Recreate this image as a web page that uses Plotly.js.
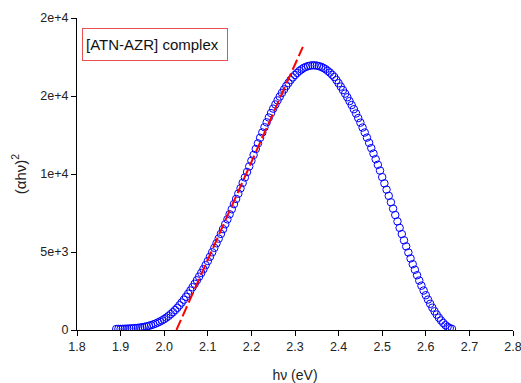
<!DOCTYPE html>
<html>
<head>
<meta charset="utf-8">
<script src="https://cdn.plot.ly/plotly-3.0.1.min.js"></script>
<style>html,body{margin:0;padding:0;background:#fff;}#chart{width:521px;height:383px;}</style>
</head>
<body>
<div id="chart"></div>
<script>
// Photon energy hν (eV)
const energy = [
1.890,1.895,1.900,1.905,1.910,1.915,1.920,1.925,1.930,1.935,1.940,1.945,1.950,1.955,1.960,1.965,1.970,1.975,1.980,1.985,
1.990,1.995,2.000,2.005,2.010,2.015,2.020,2.025,2.030,2.035,2.040,2.045,2.050,2.055,2.060,2.065,2.070,2.075,2.080,2.085,
2.090,2.095,2.100,2.105,2.110,2.115,2.120,2.125,2.130,2.135,2.140,2.145,2.150,2.155,2.160,2.165,2.170,2.175,2.180,2.185,
2.190,2.195,2.200,2.205,2.210,2.215,2.220,2.225,2.230,2.235,2.240,2.245,2.250,2.255,2.260,2.265,2.270,2.275,2.280,2.285,
2.290,2.295,2.300,2.305,2.310,2.315,2.320,2.325,2.330,2.335,2.340,2.345,2.350,2.355,2.360,2.365,2.370,2.375,2.380,2.385,
2.390,2.395,2.400,2.405,2.410,2.415,2.420,2.425,2.430,2.435,2.440,2.445,2.450,2.455,2.460,2.465,2.470,2.475,2.480,2.485,
2.490,2.495,2.500,2.505,2.510,2.515,2.520,2.525,2.530,2.535,2.540,2.545,2.550,2.555,2.560,2.565,2.570,2.575,2.580,2.585,
2.590,2.595,2.600,2.605,2.610,2.615,2.620,2.625,2.630,2.635,2.640,2.645,2.650,2.655,2.660
];
// (αhν)^2
const alphaHv2 = [
65,67,70,75,80,87,95,105,115,127,140,158,180,206,235,270,310,357,410,472,
540,617,700,797,900,1017,1140,1277,1420,1587,1760,1942,2130,2327,2530,2742,2960,3187,3420,3657,
3900,4157,4420,4697,4980,5267,5560,5857,6160,6467,6780,7097,7420,7742,8070,8402,8740,9082,9430,9777,
10130,10487,10850,11222,11600,11962,12320,12662,13000,13312,13620,13907,14190,14457,14720,14962,15200,15422,15640,15837,
16030,16192,16350,16482,16610,16707,16800,16862,16920,16947,16970,16962,16950,16912,16870,16797,16720,16612,16500,16362,
16220,16022,15820,15602,15380,15152,14920,14672,14420,14152,13880,13587,13290,12977,12660,12332,12000,11657,11310,10952,
10590,10217,9800,9400,9000,8600,8190,7780,7370,6960,6550,6150,5750,5360,4970,4590,4220,3860,3510,3170,
2840,2530,2230,1950,1680,1430,1200,990,790,610,450,310,200,120,70
];
// Linear fit (Tauc extrapolation) end points
const fitX = [2.028, 2.318];
const fitY = [0, 18150];
// Axis ticks
const yTickVals = [0, 5000, 10000, 15000, 20000];
const yTickText = ['0', '5e+3', '1e+4', '2e+4', '2e+4'];
const xTickVals = [1.8, 1.9, 2.0, 2.1, 2.2, 2.3, 2.4, 2.5, 2.6, 2.7, 2.8];
const xTickText = ['1.8', '1.9', '2.0', '2.1', '2.2', '2.3', '2.4', '2.5', '2.6', '2.7', '2.8'];
const labelText = '[ATN-AZR] complex';

const font = 'Liberation Sans, Arial, sans-serif';

const traces = [
  {
    x: energy, y: alphaHv2, type: 'scatter', mode: 'markers',
    marker: {symbol: 'circle-open', size: 7.5, color: '#0000ff', line: {width: 1, color: '#0000ff'}},
    hoverinfo: 'skip', showlegend: false
  },
  {
    x: fitX, y: fitY, type: 'scatter', mode: 'lines',
    line: {color: '#ff0000', width: 2, dash: '11px,4px'},
    hoverinfo: 'skip', showlegend: false
  }
];

const layout = {
  width: 521, height: 383,
  margin: {l: 77, r: 8, t: 18, b: 53, pad: 0},
  paper_bgcolor: '#ffffff', plot_bgcolor: '#ffffff',
  font: {family: font, size: 13, color: '#000'},
  showlegend: false,
  xaxis: {
    range: [1.8, 2.8], tickvals: xTickVals, ticktext: xTickText,
    ticks: 'outside', ticklen: 5, tickwidth: 1, tickcolor: '#000',
    ticklabeloverflow: 'allow',
    showline: true, linecolor: '#000', linewidth: 1, mirror: false,
    showgrid: false, zeroline: false,
    tickfont: {family: font, size: 12.5, color: '#222'},
    title: {text: 'hν (eV)', font: {family: font, size: 14, color: '#222'}, standoff: 18}
  },
  yaxis: {
    range: [0, 20000], tickvals: yTickVals, ticktext: yTickText,
    ticks: 'outside', ticklen: 5, tickwidth: 1, tickcolor: '#000',
    showline: true, linecolor: '#000', linewidth: 1, mirror: false,
    showgrid: false, zeroline: false,
    tickfont: {family: font, size: 12.5, color: '#222'},
    title: {text: '(αhν)<sup>2</sup>', font: {family: font, size: 15, color: '#222'}, standoff: 10}
  },
  annotations: [{
    text: labelText, xref: 'paper', yref: 'paper',
    x: 0.0115, y: 0.968, xanchor: 'left', yanchor: 'top',
    showarrow: false, align: 'left',
    font: {family: font, size: 15, color: '#111'},
    bordercolor: 'rgb(235,80,80)', borderwidth: 1, borderpad: 3,
    width: 138, height: 25, bgcolor: '#ffffff'
  }]
};

Plotly.newPlot('chart', traces, layout, {staticPlot: true, displayModeBar: false});
</script>
</body>
</html>
